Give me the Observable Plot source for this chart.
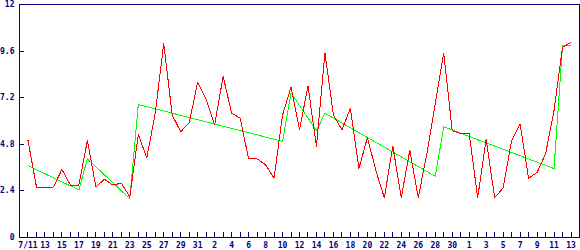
<!DOCTYPE html>
<html>
<head>
<meta charset="utf-8">
<script src="https://cdn.jsdelivr.net/npm/d3@7"></script>
<script src="https://cdn.jsdelivr.net/npm/@observablehq/plot@0.6"></script>
<style>
  html, body { margin: 0; padding: 0; background: #fff; }
  #chart svg path, #chart svg line, #chart svg rect { shape-rendering: crispEdges; }
  #chart svg text { font-weight: bold; }
</style>
</head>
<body>
<div id="chart"></div>
<script>
const year = "2005";

// Daily series (red)
const days = [
  "07-11","07-12","07-13","07-14","07-15","07-16","07-17","07-18","07-19","07-20",
  "07-21","07-22","07-23","07-24","07-25","07-26","07-27","07-28","07-29","07-30",
  "07-31","08-01","08-02","08-03","08-04","08-05","08-06","08-07","08-08","08-09",
  "08-10","08-11","08-12","08-13","08-14","08-15","08-16","08-17","08-18","08-19",
  "08-20","08-21","08-22","08-23","08-24","08-25","08-26","08-27","08-28","08-29",
  "08-30","08-31","09-01","09-02","09-03","09-04","09-05","09-06","09-07","09-08",
  "09-09","09-10","09-11","09-12","09-13"
];
const redValues = [
  5.0, 2.6, 2.6, 2.6, 3.5, 2.7, 2.7, 5.0, 2.6, 3.0,
  2.7, 2.8, 2.1, 5.3, 4.1, 6.4, 10.0, 6.3, 5.45, 5.9,
  8.0, 7.1, 5.8, 8.3, 6.4, 6.15, 4.05, 4.05, 3.75, 3.05,
  6.3, 7.75, 5.55, 7.8, 4.7, 9.5, 6.3, 5.55, 6.65, 3.55,
  5.15, 3.45, 2.05, 4.7, 2.05, 4.5, 2.05, 4.3, 6.9, 9.5,
  5.5, 5.35, 5.35, 2.05, 5.05, 2.05, 2.55, 5.0, 5.85, 3.05,
  3.35, 4.3, 6.55, 9.8, 10.05
];

// Trend series (green), break points
const greenDays = ["07-11","07-17","07-18","07-23","07-24","08-10","08-11","08-14","08-15","08-28","08-29","09-11","09-12","09-13"];
const greenValues = [3.7, 2.45, 4.05, 2.0, 6.85, 4.95, 7.45, 5.5, 6.4, 3.15, 5.7, 3.55, 9.9, 9.9];

// Axes
const xDomainDays = ["07-10", "09-14"];
const xLabelDays = ["07-11","07-13","07-15","07-17","07-19","07-21","07-23","07-25","07-27","07-29","07-31",
  "08-02","08-04","08-06","08-08","08-10","08-12","08-14","08-16","08-18","08-20","08-22","08-24","08-26","08-28","08-30",
  "09-01","09-03","09-05","09-07","09-09","09-11","09-13"];
const xLabels = ["7/11","13","15","17","19","21","23","25","27","29","31",
  "2","4","6","8","10","12","14","16","18","20","22","24","26","28","30",
  "1","3","5","7","9","11","13"];
const yTicks = [0, 2.4, 4.8, 7.2, 9.6, 12];
const yTickLabels = ["0", "2.4", "4.8", "7.2", "9.6", "12"];

const toDate = (md) => new Date(`${year}-${md}T00:00:00Z`);
const red = days.map((d, i) => ({date: toDate(d), value: redValues[i]}));
const green = greenDays.map((d, i) => ({date: toDate(d), value: greenValues[i]}));
const tickDates = days.map(toDate);
const labelMap = new Map(xLabelDays.map((d, i) => [toDate(d).getTime(), xLabels[i]]));

const navy = "#000080";

const chart = Plot.plot({
  width: 580,
  height: 250,
  marginLeft: 19,
  marginRight: 1,
  marginTop: 4,
  marginBottom: 13,
  style: {
    fontFamily: "'DejaVu Sans Mono', monospace",
    fontSize: "8px",
    color: navy,
    background: "#fff",
    overflow: "visible"
  },
  x: {type: "utc", domain: xDomainDays.map(toDate)},
  y: {domain: [0, 12]},
  marks: [
    Plot.axisX({
      ticks: tickDates,
      tickSize: -5,
      tickPadding: 10,
      tickFormat: (d) => labelMap.get(d.getTime()) ?? "",
      label: null
    }),
    Plot.axisY({
      ticks: yTicks,
      tickSize: -5,
      tickPadding: 10,
      tickFormat: (d) => yTickLabels[yTicks.indexOf(d)],
      label: null
    }),
    Plot.line(green, {x: "date", y: "value", stroke: "#00ff00", strokeWidth: 1}),
    Plot.line(red, {x: "date", y: "value", stroke: "#ff0000", strokeWidth: 1}),
    Plot.frame({stroke: navy})
  ]
});

document.getElementById("chart").appendChild(chart);
</script>
</body>
</html>
